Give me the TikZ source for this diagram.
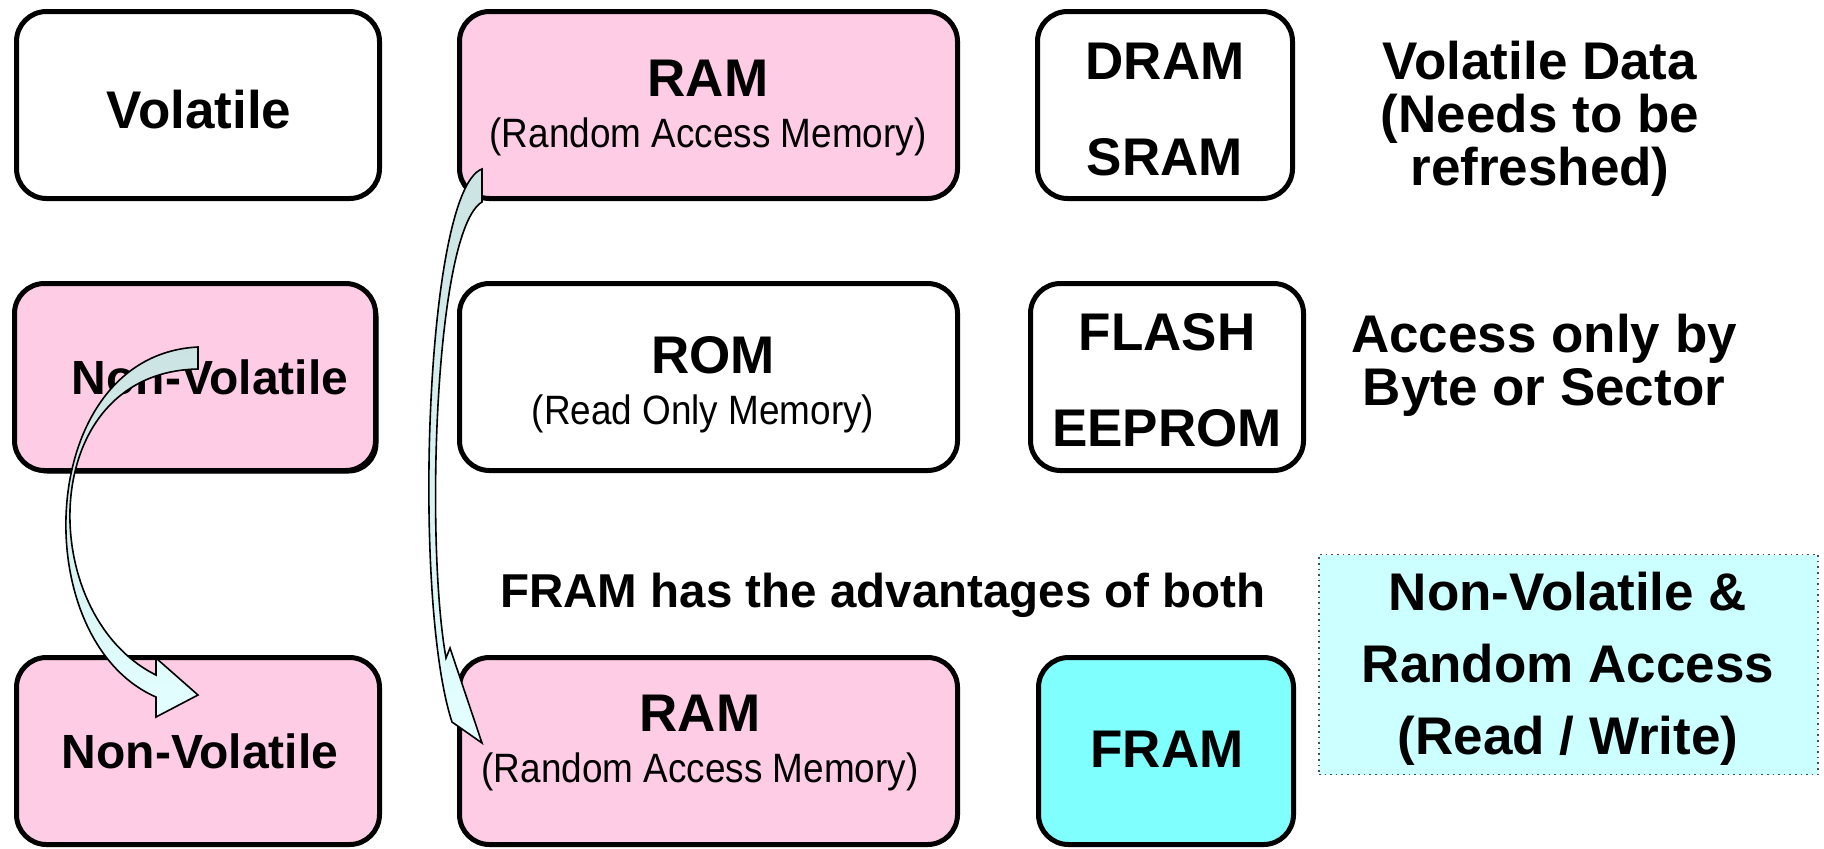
\documentclass[tikz,border=0pt]{standalone}
\usepackage{fontspec}
\setmainfont{Liberation Sans}
\newfontfamily\narrowsans[FakeStretch=0.9]{Liberation Sans}
\usetikzlibrary{shadows}
\definecolor{memorypink}{HTML}{FFCCE6}
\definecolor{framcyan}{HTML}{80FFFF}
\definecolor{notecyan}{HTML}{CCFFFF}
\definecolor{arrowtop}{HTML}{CCE3E3}
\definecolor{arrowbottom}{HTML}{E3FFFF}

\begin{document}
\begin{tikzpicture}[x=0.5pt, y=-0.5pt,
  membox/.style={draw, line width=2.5pt, rounded corners=15pt, minimum height=93.5pt, inner sep=0pt},
  big/.style={font=\fontsize{26.5}{28}\selectfont\bfseries, inner sep=0pt, anchor=base},
  mid/.style={font=\fontsize{24}{26}\selectfont\bfseries, inner sep=0pt, anchor=base},
  sub/.style={font=\fontsize{20.5}{22}\selectfont\narrowsans, inner sep=0pt, anchor=base},
  curvearrow/.style={draw, line width=0.8pt, top color=arrowtop, bottom color=arrowbottom}]
\useasboundingbox (0,0) rectangle (1824,848);

\node[membox, minimum width=181.5pt] (volbox) at (198,105) {};
\node[membox, fill=memorypink, minimum width=249pt] (ramtop) at (708.5,105) {};
\node[membox, minimum width=127.5pt] (drambox) at (1165,105) {};
\node[membox, fill=memorypink, minimum width=180.5pt,
  drop shadow={shadow xshift=1.5pt, shadow yshift=-1.5pt, fill=black, opacity=1}] (nvtop) at (195,377) {};
\node[membox, minimum width=249pt] (rombox) at (708.5,377) {};
\node[membox, minimum width=136.5pt] (flashbox) at (1167,377) {};
\node[membox, fill=memorypink, minimum width=181.5pt] (nvlow) at (198,751) {};
\node[membox, fill=memorypink, minimum width=249pt] (ramlow) at (708.5,751) {};
\node[membox, fill=framcyan, minimum width=127.5pt] (frambox) at (1166,751) {};
\node[draw=black!70, dotted, line width=0.8pt, fill=notecyan,
  minimum width=249.5pt, minimum height=110pt] (notebox) at (1568.5,664.5) {};

\node[big] (voltxt) at (199,128) {Volatile};
\node[big] (ramtoptxt) at (708,96) {RAM};
\node[sub] (ramtopsub) at (708,147) {(Random Access Memory)};
\node[big] (dramtxt) at (1165,79) {DRAM};
\node[big] (sramtxt) at (1165,175) {SRAM};
\foreach \txt [count=\i] in {{Volatile Data}, {(Needs to be}, {refreshed)}}
  \node[big] (voldata\i) at (1540,26+53*\i) {\txt};

\node[mid] (nvtoptxt) at (210,394) {Non-Volatile};
\node[big] (romtxt) at (713,373) {ROM};
\node[sub] (romsub) at (703,424) {(Read Only Memory)};
\node[big] (flashtxt) at (1167,350) {FLASH};
\node[big] (eepromtxt) at (1167,446) {EEPROM};
\foreach \txt [count=\i] in {{Access only by}, {Byte or Sector}}
  \node[big] (access\i) at (1544,299+53*\i) {\txt};

\node[font=\fontsize{23.75}{26}\selectfont\bfseries, inner sep=0pt, anchor=base] (bothtxt) at (883,607) {FRAM has the advantages of both};
\node[mid] (nvlowtxt) at (200,768) {Non-Volatile};
\node[big] (ramlowtxt) at (700,731) {RAM};
\node[sub] (ramlowsub) at (700,782) {(Random Access Memory)};
\node[big] (framtxt) at (1167,767) {FRAM};
\foreach \txt [count=\i] in {{Non-Volatile \&}, {Random Access}, {(Read / Write)}}
  \node[big] (note\i) at (1568,538+72*\i) {\txt};

\draw[curvearrow] (198,347) .. controls (35,355) and (25,640) .. (156,697) -- (156,717)
  -- (198,695) -- (156,658) -- (156,675) .. controls (35,615) and (35,372) .. (198,369) -- cycle;
\draw[curvearrow] (482,169) .. controls (425,190) and (412,600) .. (452,722) -- (482,743)
  -- (450,648) -- (446,658) .. controls (425,540) and (435,230) .. (482,202) -- cycle;
\end{tikzpicture}
\end{document}
